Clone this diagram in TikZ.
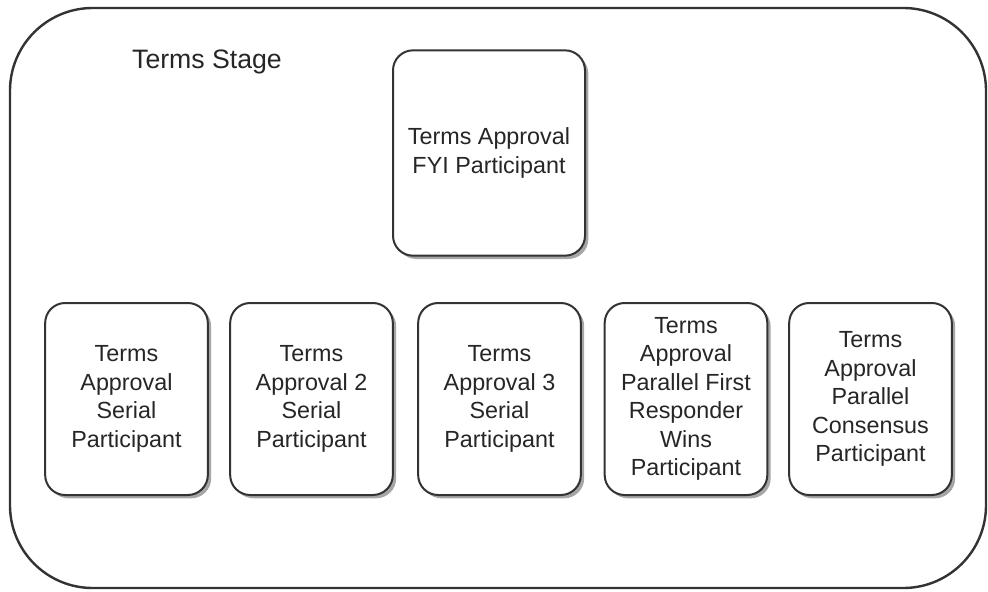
\documentclass[tikz,border=0pt]{standalone}
\usepackage{fontspec}
\setmainfont{Liberation Sans}
\usetikzlibrary{shadows}
\definecolor{edge}{HTML}{333333}
\tikzset{
  stagebox/.style={draw=edge, line width=1.8pt, rounded corners=62pt, minimum width=732pt, minimum height=435pt, inner sep=0pt},
  partbox/.style={draw=edge, line width=1.5pt, fill=white, rounded corners=15pt, align=center, inner sep=0pt,
    font=\fontsize{17.5}{21.4}\selectfont, text=black!85,
    drop shadow={shadow xshift=2.5pt, shadow yshift=-2.5pt, opacity=0.35, fill=black}},
  lowbox/.style={partbox, minimum width=122pt, minimum height=144pt},
  stagelabel/.style={font=\fontsize{20}{24}\selectfont, text=black!85}
}
\begin{document}
\begin{tikzpicture}[x=0.75pt,y=-0.75pt]
\useasboundingbox (0,0) rectangle (988,592);
\node[stagebox] (stage) at (498,298) {};
\node[stagelabel] (stagename) at (207,62) {Terms Stage};
\node[partbox, minimum width=144pt, minimum height=154pt] (fyi) at (489,153) {Terms Approval\\FYI Participant};
\node[lowbox] (s1) at (126.5,399) {Terms\\Approval\\Serial\\Participant};
\node[lowbox] (s2) at (311.5,399) {Terms\\Approval 2\\Serial\\Participant};
\node[lowbox] (s3) at (499.5,399) {Terms\\Approval 3\\Serial\\Participant};
\node[lowbox] (p1) at (686,399) {Terms\\Approval\\Parallel First\\Responder\\Wins\\Participant};
\node[lowbox] (p2) at (870.5,399) {Terms\\Approval\\Parallel\\Consensus\\Participant};
\end{tikzpicture}
\end{document}
